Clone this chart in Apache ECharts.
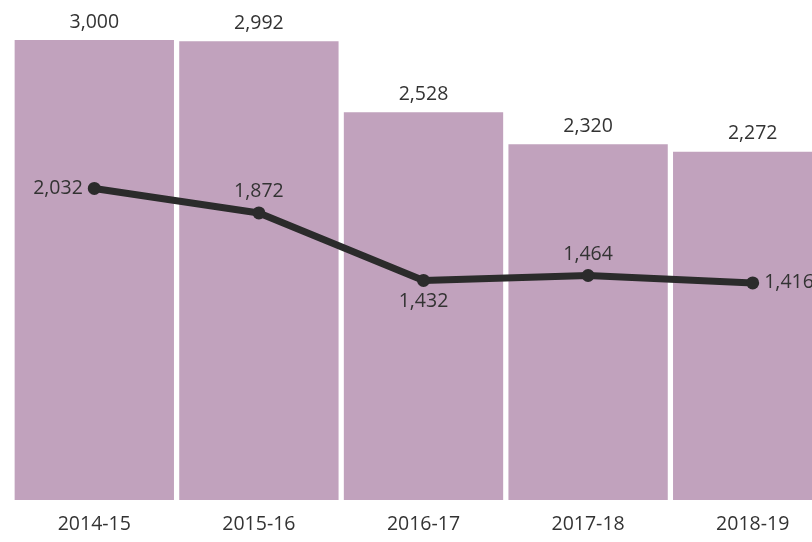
<!DOCTYPE html>
<html><head><meta charset="utf-8">
<script src="https://cdn.jsdelivr.net/npm/echarts@6/dist/echarts.min.js"></script>
<style>html,body{margin:0;padding:0;background:#fff}#c{width:812px;height:542px}</style>
</head><body><div id="c"></div>
<script>
const categories = ['2014-15','2015-16','2016-17','2017-18','2018-19'];
const barValues = [3000, 2992, 2528, 2320, 2272];
const lineValues = [2032, 1872, 1432, 1464, 1416];
const linePositions = ['left','top','bottom','top','right'];

const chart = echarts.init(document.getElementById('c'));
const fmt = v => v.toLocaleString('en-US');
chart.setOption({
  animation: false,
  grid: { left: 12, width: 823, top: 40, bottom: 42, outerBoundsMode: 'none', containLabel: false },
  xAxis: {
    type: 'category', data: categories,
    axisLine: { show: false }, axisTick: { show: false },
    axisLabel: { fontFamily: 'Open Sans', fontSize: 19.5, color: '#333', margin: 14 }
  },
  yAxis: { type: 'value', min: 0, max: 3000, show: false, splitLine: { show: false } },
  series: [
    {
      type: 'bar', data: barValues, barCategoryGap: '3.2%',
      itemStyle: { color: '#c1a2bd' },
      label: { show: true, position: 'top', distance: 8, formatter: p => fmt(p.value),
               fontFamily: 'Open Sans', fontSize: 19.5, color: '#333' }
    },
    {
      type: 'line', data: lineValues.map((v, i) => ({ value: v, label: { position: linePositions[i] } })),
      lineStyle: { color: '#2b2b2b', width: 7 },
      itemStyle: { color: '#2b2b2b' },
      symbol: 'circle', symbolSize: 13,
      label: { show: true, distance: 5, formatter: p => fmt(p.value),
               fontFamily: 'Open Sans', fontSize: 19.5, color: '#333' }
    }
  ]
});
</script></body></html>
